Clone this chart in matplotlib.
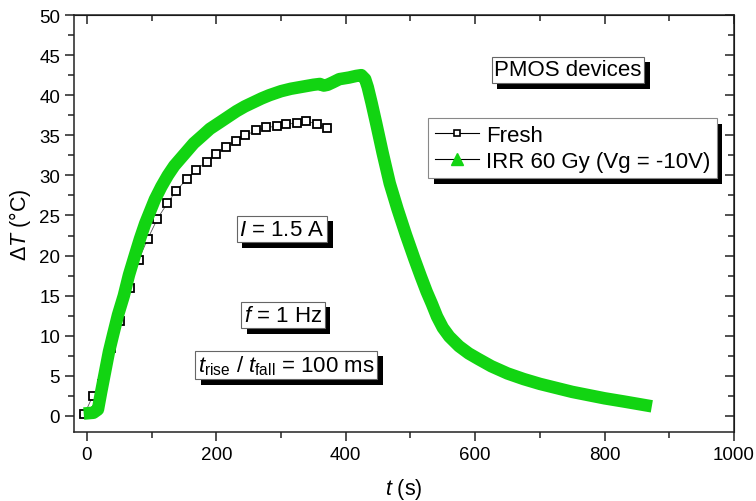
import numpy as np
import matplotlib
matplotlib.use('Agg')
import matplotlib.pyplot as plt
from matplotlib.ticker import MultipleLocator
from matplotlib.lines import Line2D
import matplotlib.patheffects as pe

plt.rcParams['font.family'] = ['Liberation Sans', 'DejaVu Sans']
plt.rcParams['mathtext.fontset'] = 'custom'
plt.rcParams['mathtext.rm'] = 'Liberation Sans'
plt.rcParams['mathtext.it'] = 'Liberation Sans:italic'

# Fresh device (open squares)
fresh_t = [-4, 9, 23, 37, 51, 66, 80, 94, 109, 124, 138, 154, 169, 185, 200,
           215, 230, 245, 262, 277, 293, 308, 324, 339, 355, 371]
fresh_dT = [0.2, 2.5, 4.0, 8.5, 11.9, 15.9, 19.5, 22.1, 24.6, 26.5, 28.1, 29.5,
            30.7, 31.7, 32.7, 33.5, 34.3, 35.0, 35.6, 36.0, 36.1, 36.4, 36.5,
            36.8, 36.4, 35.9]

# Irradiated device, 60 Gy (dense green trace)
irr_t = [-5, 10, 17, 22, 28, 34, 40, 48, 57, 65, 74, 82, 90, 98, 105, 115, 125,
         135, 150, 165, 179, 190, 205, 218, 231, 244, 257, 270, 282, 300, 315,
         329, 350, 360, 366, 372, 380, 390, 405, 416, 424, 430, 434, 440, 447,
         457, 468, 480, 493, 506, 516, 525, 533, 541, 550, 560, 575, 590, 605,
         625, 650, 675, 700, 725, 750, 775, 800, 830, 873]
irr_dT = [0.3, 0.4, 0.8, 3.0, 5.5, 8.0, 10.0, 12.6, 15.0, 17.6, 20.0, 22.1,
          24.0, 25.6, 27.0, 28.6, 30.0, 31.2, 32.6, 34.0, 35.0, 35.8, 36.6,
          37.3, 38.0, 38.6, 39.1, 39.6, 40.0, 40.5, 40.8, 41.0, 41.3, 41.4,
          41.2, 41.3, 41.6, 42.0, 42.2, 42.4, 42.5, 42.0, 41.0, 39.0, 36.5,
          32.8, 29.0, 25.8, 22.6, 19.6, 17.4, 15.5, 14.0, 12.4, 11.0, 9.9,
          8.7, 7.8, 7.1, 6.2, 5.3, 4.6, 4.0, 3.5, 3.0, 2.6, 2.2, 1.8, 1.2]

green = '#12d412'

fig = plt.figure(figsize=(7.56, 5.02), dpi=100)
ax = fig.add_axes([74/756, 1-433/502, 660/756, 417/502])

ax.plot(fresh_t, fresh_dT, color='#555555', lw=0.6, marker='s', ms=6,
        mfc='white', mec='black', mew=1.3, zorder=2)
ax.plot(irr_t, irr_dT, color=green, lw=9, solid_capstyle='butt',
        solid_joinstyle='round', zorder=3)

ax.set_xlim(-20, 1000)
ax.set_ylim(-2, 50)
ax.xaxis.set_major_locator(MultipleLocator(200))
ax.xaxis.set_minor_locator(MultipleLocator(100))
ax.yaxis.set_major_locator(MultipleLocator(5))
ax.yaxis.set_minor_locator(MultipleLocator(2.5))
ax.tick_params(which='both', direction='out', labelsize=13.5, width=1.1,
               top=False, right=False, color='#222222')
ax.tick_params(which='major', length=6.5)
ax.tick_params(which='minor', length=4)
for s in ax.spines.values():
    s.set_linewidth(1.1)
    s.set_color('#222222')

# inward ticks on top and right
sx = ax.secondary_xaxis('top')
sx.xaxis.set_major_locator(MultipleLocator(200))
sx.xaxis.set_minor_locator(MultipleLocator(100))
sx.tick_params(which='both', direction='in', labeltop=False, width=1.1, color='#222222')
sx.tick_params(which='major', length=6.5)
sx.tick_params(which='minor', length=4)
sy = ax.secondary_yaxis('right')
sy.yaxis.set_major_locator(MultipleLocator(5))
sy.yaxis.set_minor_locator(MultipleLocator(2.5))
sy.tick_params(which='both', direction='in', labelright=False, width=1.1, color='#222222')
sy.tick_params(which='major', length=6.5)
sy.tick_params(which='minor', length=4)

ax.set_xlabel(r'$t$ (s)', fontsize=15.5)
ax.set_ylabel(r'$\Delta T$ (°C)', fontsize=15.5)
ax.xaxis.set_label_coords(0.5, -0.105)
ax.yaxis.set_label_coords(-0.062, 0.5)

shadow = [pe.withSimplePatchShadow(offset=(4, -4), shadow_rgbFace='black', alpha=1.0)]


def boxed(x, y, s):
    t = ax.text(x, y, s, transform=fig.transFigure, fontsize=16, ha='center',
                va='center', zorder=5,
                bbox=dict(boxstyle='square,pad=0.12', fc='white', ec='#666666', lw=0.8))
    t.get_bbox_patch().set_path_effects(shadow)
    return t


boxed(568/756, 1-71/502, 'PMOS devices')
boxed(282/756, 1-230/502, r'$I$ = 1.5 A')
boxed(283/756, 1-316/502, r'$f$ = 1 Hz')
boxed(286/756, 1-366/502, r'$t_{\rm rise}$ / $t_{\rm fall}$ = 100 ms')

handles = [
    Line2D([], [], color='black', lw=0.8, marker='s', ms=5, mfc='white',
           mec='black', mew=1.2),
    Line2D([], [], color='black', lw=0.8, marker='^', ms=8, mfc=green, mec=green),
]
leg = ax.legend(handles, ['Fresh', 'IRR 60 Gy (Vg = -10V)'], loc='upper left',
                bbox_to_anchor=(428/756, 1-119/502), bbox_transform=fig.transFigure,
                fontsize=16, frameon=True, fancybox=False, edgecolor='#888888',
                framealpha=1, borderpad=0.3, labelspacing=0.22, handlelength=2.0,
                handletextpad=0.3, borderaxespad=0)
leg.get_frame().set_linewidth(0.8)
leg.legendPatch.set_path_effects(shadow)
leg.set_zorder(6)

fig.savefig('out.png', dpi=100)
